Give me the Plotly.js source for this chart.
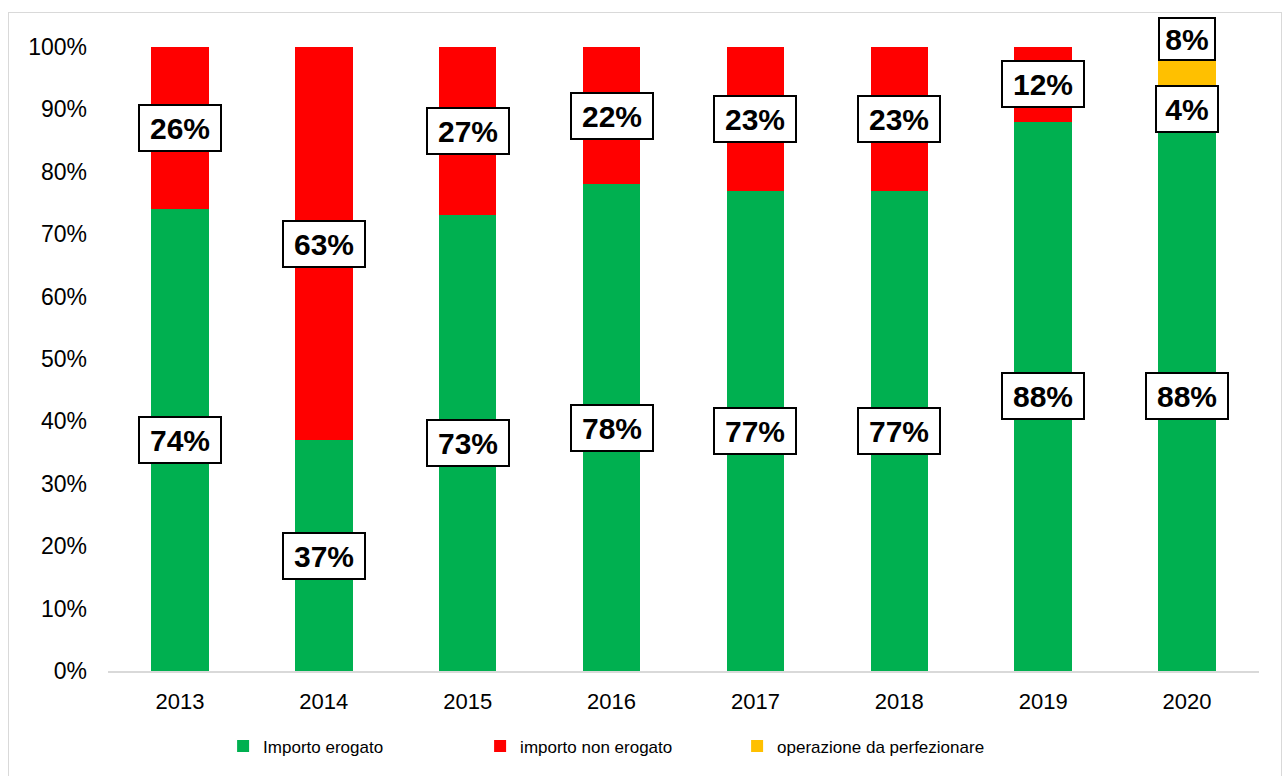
<!DOCTYPE html>
<html>
<head>
<meta charset="utf-8">
<script src="https://cdn.plot.ly/plotly-3.0.1.min.js"></script>
<style>
  html, body { margin: 0; padding: 0; background: #fff; overflow: hidden; }
  #chart { width: 1285px; height: 776px; position: absolute; left: 0; top: 0; }
  #frame { position: absolute; left: 8px; top: 12px; width: 1272px; height: 800px;
           border: 1.5px solid #d9d9d9; pointer-events: none; }
</style>
</head>
<body>
<div id="chart"></div>
<div id="frame"></div>
<script>
const years = ['2013', '2014', '2015', '2016', '2017', '2018', '2019', '2020'];
const erogato = [0.74, 0.37, 0.73, 0.78, 0.77, 0.77, 0.88, 0.88];
const nonErogato = [0.26, 0.63, 0.27, 0.22, 0.23, 0.23, 0.12, 0.04];
const daPerfezionare = [0, 0, 0, 0, 0, 0, 0, 0.08];
const seriesNames = ['Importo erogato', 'importo non erogato', 'operazione da perfezionare'];
const colors = ['#00B050', '#FF0000', '#FFC000'];
const yTicks = [0, 0.1, 0.2, 0.3, 0.4, 0.5, 0.6, 0.7, 0.8, 0.9, 1.0];

const idx = years.map((_, j) => j);
const series = [erogato, nonErogato, daPerfezionare];
const traces = series.map((vals, i) => ({
  type: 'bar',
  name: seriesNames[i],
  x: idx,
  y: vals,
  marker: { color: colors[i], line: { width: 0 } },
  width: 0.4,
  hoverinfo: 'skip'
}));

const annotations = [];
idx.forEach((j) => {
  let base = 0;
  series.forEach((vals, i) => {
    const v = vals[j];
    if (v > 0) {
      const txt = Math.round(v * 100) + '%';
      const isTopYellow = (i === 2);
      annotations.push({
        x: j, y: base + v / 2, xref: 'x', yref: 'y',
        text: '<b>' + txt + '</b>',
        showarrow: false,
        font: { family: 'Liberation Sans, Arial, sans-serif', size: 30, color: '#000' },
        bgcolor: '#ffffff',
        bordercolor: '#000000',
        borderwidth: 2,
        borderpad: 3,
        width: txt.length === 3 ? 74 : (isTopYellow ? 48 : 54),
        height: isTopYellow ? 34 : 38,
        yshift: isTopYellow ? 33 : 0
      });
    }
    base += v;
  });
});

const layout = {
  width: 1285, height: 776,
  margin: { l: 108, r: 26, t: 47, b: 101 },
  paper_bgcolor: '#ffffff', plot_bgcolor: '#ffffff',
  barmode: 'stack',
  showlegend: true,
  font: { family: 'Liberation Sans, Arial, sans-serif', size: 22, color: '#000' },
  xaxis: {
    range: [-0.5, years.length - 0.5],
    tickvals: idx, ticktext: years,
    showgrid: false, zeroline: false,
    showline: true, linecolor: '#d9d9d9', linewidth: 1.5,
    ticks: '', ticklabelstandoff: 10,
    tickfont: { size: 22, color: '#000' }
  },
  yaxis: {
    range: [0, 1], tickvals: yTicks,
    tickformat: '.0%',
    showgrid: false, zeroline: false, showline: false,
    ticks: '', ticklabelstandoff: 20,
    tickfont: { size: 23, color: '#000' }
  },
  legend: {
    orientation: 'h',
    x: 0.1, xanchor: 'left',
    y: -0.092, yanchor: 'top',
    font: { family: 'Liberation Sans, Arial, sans-serif', size: 17, color: '#000' },
    traceorder: 'normal',
    entrywidth: 212, entrywidthmode: 'pixels',
    itemwidth: 30
  },
  annotations: annotations
};

Plotly.newPlot('chart', traces, layout, { staticPlot: true, displayModeBar: false });
</script>
</body>
</html>
